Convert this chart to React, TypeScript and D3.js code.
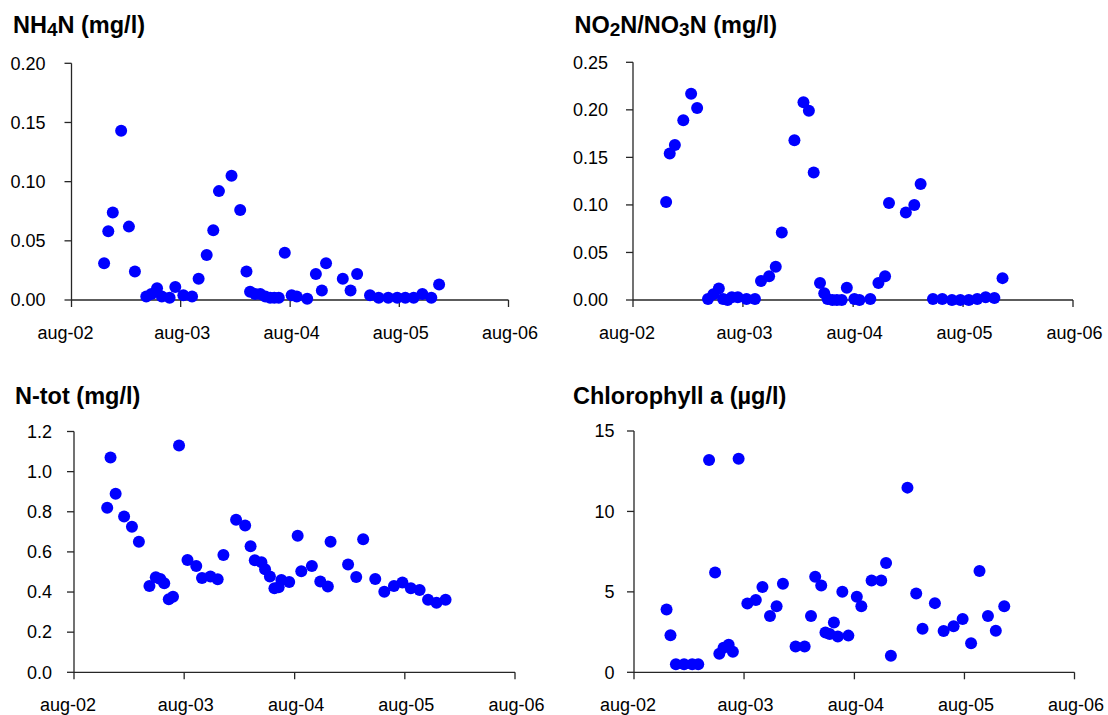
import React from "react";
import * as d3 from "d3";

// ---------- DATA ----------
const xTickDates = ["2002-08-01", "2003-08-01", "2004-08-01", "2005-08-01", "2006-08-01"];
const xTickLabels = ["aug-02", "aug-03", "aug-04", "aug-05", "aug-06"];

const nh4Dates = ["2002-11-18","2002-12-02","2002-12-17","2003-01-14","2003-02-09","2003-03-01","2003-04-08","2003-04-25","2003-05-14","2003-05-30","2003-06-25","2003-07-14","2003-08-10","2003-09-08","2003-09-30","2003-10-27","2003-11-18","2003-12-07","2004-01-18","2004-02-16","2004-03-08","2004-03-20","2004-04-06","2004-04-23","2004-05-10","2004-05-26","2004-06-09","2004-06-24","2004-07-14","2004-08-06","2004-08-23","2004-09-27","2004-10-26","2004-11-15","2004-11-29","2005-01-24","2005-02-19","2005-03-13","2005-04-25","2005-05-24","2005-06-25","2005-07-25","2005-08-21","2005-09-18","2005-10-17","2005-11-16","2005-12-12"];
const nh4Values = [0.031,0.058,0.074,0.143,0.062,0.024,0.003,0.005,0.010,0.003,0.002,0.011,0.004,0.003,0.018,0.038,0.059,0.092,0.105,0.076,0.024,0.007,0.005,0.005,0.003,0.002,0.002,0.002,0.040,0.004,0.003,0.001,0.022,0.008,0.031,0.018,0.008,0.022,0.004,0.002,0.002,0.002,0.002,0.002,0.005,0.002,0.013];

const no3Dates = ["2002-11-19","2002-12-01","2002-12-18","2003-01-15","2003-02-10","2003-03-02","2003-04-07","2003-04-25","2003-05-13","2003-05-27","2003-06-11","2003-06-25","2003-07-15","2003-08-13","2003-09-10","2003-09-30","2003-10-27","2003-11-18","2003-12-08","2004-01-19","2004-02-18","2004-03-07","2004-03-23","2004-04-13","2004-04-27","2004-05-08","2004-05-24","2004-06-08","2004-06-24","2004-07-11","2004-08-05","2004-08-22","2004-09-27","2004-10-24","2004-11-15","2004-11-28","2005-01-23","2005-02-20","2005-03-13","2005-04-23","2005-05-24","2005-06-25","2005-07-23","2005-08-20","2005-09-17","2005-10-15","2005-11-13","2005-12-10"];
const no3Values = [0.103,0.154,0.163,0.189,0.217,0.202,0.001,0.006,0.012,0.001,0.0,0.003,0.003,0.001,0.001,0.020,0.025,0.035,0.071,0.168,0.208,0.199,0.134,0.018,0.007,0.001,0.0,0.0,0.0,0.013,0.001,0.0,0.001,0.018,0.025,0.102,0.092,0.100,0.122,0.001,0.001,0.0,0.0,0.0,0.001,0.003,0.002,0.023];

const ntotDates = ["2002-11-19","2002-11-30","2002-12-17","2003-01-14","2003-02-09","2003-03-04","2003-04-08","2003-04-29","2003-05-14","2003-05-27","2003-06-11","2003-06-25","2003-07-15","2003-08-12","2003-09-10","2003-09-29","2003-10-27","2003-11-20","2003-12-09","2004-01-20","2004-02-19","2004-03-08","2004-03-22","2004-04-13","2004-04-25","2004-05-11","2004-05-26","2004-06-09","2004-06-18","2004-07-14","2004-08-11","2004-08-23","2004-09-27","2004-10-25","2004-11-19","2004-11-28","2005-01-25","2005-02-21","2005-03-16","2005-04-25","2005-05-25","2005-06-26","2005-07-24","2005-08-21","2005-09-19","2005-10-17","2005-11-14","2005-12-14"];
const ntotValues = [0.82,1.07,0.89,0.776,0.725,0.65,0.43,0.474,0.465,0.444,0.364,0.377,1.13,0.56,0.53,0.47,0.477,0.464,0.585,0.76,0.731,0.628,0.558,0.548,0.514,0.477,0.419,0.424,0.46,0.45,0.681,0.504,0.53,0.452,0.427,0.65,0.537,0.475,0.663,0.465,0.401,0.43,0.447,0.419,0.41,0.361,0.347,0.361];

const chlDates = ["2002-11-17","2002-11-30","2002-12-18","2003-01-14","2003-02-10","2003-03-02","2003-04-07","2003-04-27","2003-05-11","2003-05-25","2003-06-11","2003-06-25","2003-07-14","2003-08-12","2003-09-09","2003-10-01","2003-10-26","2003-11-17","2003-12-08","2004-01-19","2004-02-18","2004-03-10","2004-03-24","2004-04-13","2004-04-27","2004-05-11","2004-05-25","2004-06-07","2004-06-22","2004-07-12","2004-08-09","2004-08-24","2004-09-27","2004-10-29","2004-11-14","2004-11-30","2005-01-24","2005-02-22","2005-03-15","2005-04-25","2005-05-24","2005-06-26","2005-07-26","2005-08-23","2005-09-20","2005-10-18","2005-11-13","2005-12-11"];
const chlValues = [3.9,2.3,0.5,0.5,0.5,0.5,13.2,6.2,1.16,1.53,1.72,1.28,13.28,4.28,4.5,5.3,3.5,4.1,5.5,1.6,1.6,3.5,5.94,5.4,2.48,2.38,3.1,2.23,5.0,2.28,4.7,4.1,5.7,5.7,6.8,1.03,11.48,4.9,2.71,4.3,2.57,2.86,3.31,1.8,6.29,3.5,2.59,4.1];

const nh4Ticks = [0, 0.05, 0.1, 0.15, 0.2];
const no3Ticks = [0, 0.05, 0.1, 0.15, 0.2, 0.25];
const ntotTicks = [0, 0.2, 0.4, 0.6, 0.8, 1.0, 1.2];
const chlTicks = [0, 5, 10, 15];

// ---------- LAYOUT ----------
const parse = d3.timeParse("%Y-%m-%d");
const FONT = "'Liberation Sans', Arial, Helvetica, sans-serif";
const AXIS = "#262626";
const DOT = "#0000FF";

type Panel = {
  title: { t: string; sub?: boolean }[];
  dates: string[];
  values: number[];
  ticks: number[];
  fmt: string;
  x0: number; x1: number; yTop: number; yBot: number;
  gap: number; tx: number; ty: number;
};

const panels: Panel[] = [
  { title: [{ t: "NH" }, { t: "4", sub: true }, { t: "N (mg/l)" }], dates: nh4Dates, values: nh4Values, ticks: nh4Ticks, fmt: ".2f",
    x0: 71.5, x1: 508.5, yTop: 63.3, yBot: 300, gap: 26, tx: 13, ty: 33.3 },
  { title: [{ t: "NO" }, { t: "2", sub: true }, { t: "N/NO" }, { t: "3", sub: true }, { t: "N (mg/l)" }], dates: no3Dates, values: no3Values, ticks: no3Ticks, fmt: ".2f",
    x0: 633, x1: 1073, yTop: 62.3, yBot: 300, gap: 25, tx: 574.5, ty: 33.3 },
  { title: [{ t: "N-tot (mg/l)" }], dates: ntotDates, values: ntotValues, ticks: ntotTicks, fmt: ".1f",
    x0: 74, x1: 515, yTop: 431.5, yBot: 672.3, gap: 22, tx: 15, ty: 403.5 },
  { title: [{ t: "Chlorophyll a (µg/l)" }], dates: chlDates, values: chlValues, ticks: chlTicks, fmt: "d",
    x0: 634, x1: 1074.5, yTop: 431, yBot: 672.3, gap: 19.5, tx: 573, ty: 404 },
];

function PanelView({ p }: { p: Panel }) {
  const tickDates = xTickDates.map((d) => parse(d) as Date);
  const x = d3.scaleTime().domain([tickDates[0], tickDates[tickDates.length - 1]]).range([p.x0, p.x1]);
  const yMax = p.ticks[p.ticks.length - 1];
  const y = d3.scaleLinear().domain([0, yMax]).range([p.yBot, p.yTop]);
  const f = d3.format(p.fmt);
  const pts = p.dates.map((d, i) => ({ d: parse(d) as Date, v: p.values[i] }));
  return (
    <g>
      <text x={p.tx} y={p.ty} fontFamily={FONT} fontWeight="bold" fontSize={23.5} fill="#000">
        {p.title.map((s, i) =>
          s.sub ? (
            <tspan key={i} fontSize={19} dy={3}>{s.t}</tspan>
          ) : (
            <tspan key={i} dy={i > 0 && p.title[i - 1].sub ? -3 : 0}>{s.t}</tspan>
          )
        )}
      </text>
      {/* y axis */}
      <line x1={p.x0} x2={p.x0} y1={y(yMax)} y2={y(0)} stroke={AXIS} strokeWidth={1.3} />
      {p.ticks.map((t, i) => (
        <g key={i}>
          <line x1={p.x0 - 7} x2={p.x0} y1={y(t)} y2={y(t)} stroke={AXIS} strokeWidth={1.3} />
          <text x={p.x0 - p.gap} y={y(t)} dy="0.35em" textAnchor="end" fontFamily={FONT} fontSize={18} fill="#000">
            {f(t)}
          </text>
        </g>
      ))}
      {/* x axis */}
      <line x1={p.x0} x2={p.x1} y1={y(0)} y2={y(0)} stroke={AXIS} strokeWidth={1.3} />
      {tickDates.map((d, i) => (
        <g key={i}>
          <line x1={x(d)} x2={x(d)} y1={y(0)} y2={y(0) + 7} stroke={AXIS} strokeWidth={1.3} />
          <text x={x(d) + (i === 0 ? -6 : 1.5)} y={y(0) + 38.5} textAnchor="middle" fontFamily={FONT} fontSize={18} fill="#000">
            {xTickLabels[i]}
          </text>
        </g>
      ))}
      {pts.map((pt, i) => (
        <circle key={i} cx={x(pt.d)} cy={y(pt.v)} r={6} fill={DOT} />
      ))}
    </g>
  );
}

export default function App() {
  return (
    <svg width={1108} height={715} style={{ position: "absolute", left: 0, top: 0, background: "#fff" }}>
      <rect width={1108} height={715} fill="#fff" />
      {panels.map((p, i) => (
        <PanelView key={i} p={p} />
      ))}
    </svg>
  );
}
